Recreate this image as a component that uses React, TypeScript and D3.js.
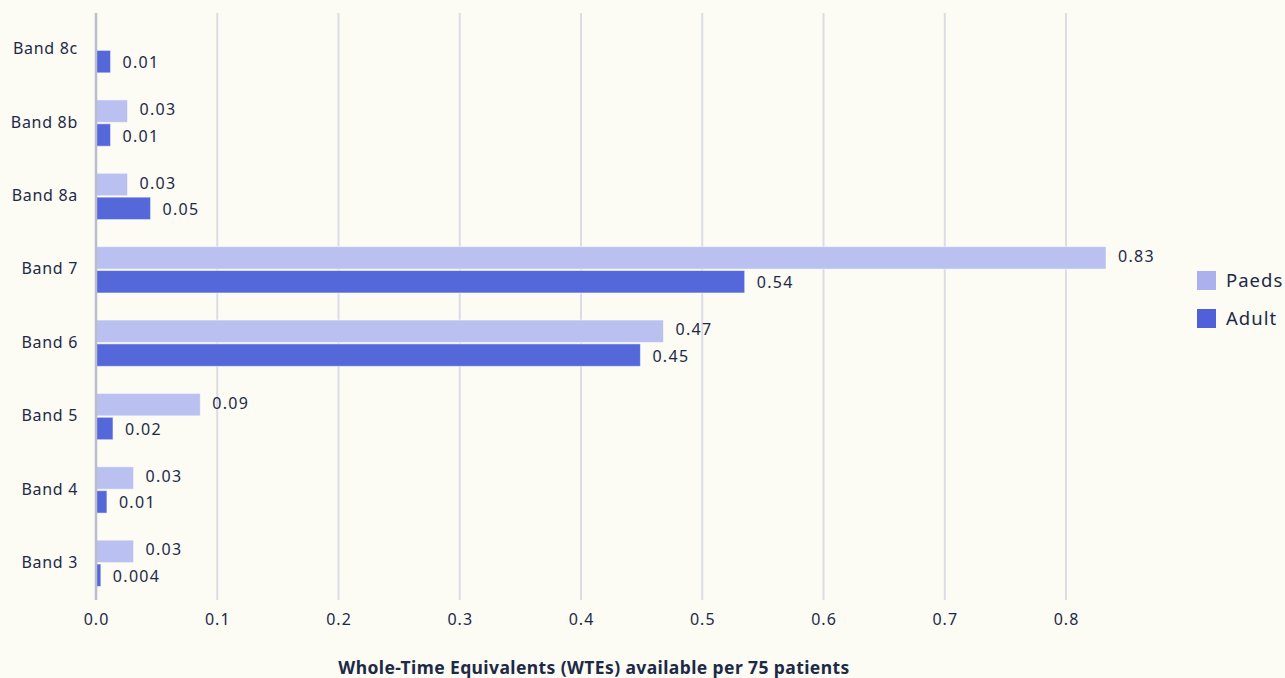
import { useRef, useEffect } from "react";
import * as d3 from "d3";

const bands = ["Band 8c", "Band 8b", "Band 8a", "Band 7", "Band 6", "Band 5", "Band 4", "Band 3"];
const seriesNames = ["Paeds", "Adult"];
const paedsValues = [null, 0.026, 0.026, 0.833, 0.468, 0.086, 0.031, 0.031];
const adultValues = [0.012, 0.012, 0.045, 0.535, 0.449, 0.014, 0.009, 0.004];
const paedsLabels = ["", "0.03", "0.03", "0.83", "0.47", "0.09", "0.03", "0.03"];
const adultLabels = ["0.01", "0.01", "0.05", "0.54", "0.45", "0.02", "0.01", "0.004"];
const xTicks = [0, 0.1, 0.2, 0.3, 0.4, 0.5, 0.6, 0.7, 0.8];

const W = 1285;
const H = 678;
const TEXT = "#1c2a48";
const FONT = "'Noto Sans', 'Open Sans', sans-serif";
const colors: Record<string, string> = { Paeds: "#bac0f0", Adult: "#5468da" };
const legendColors: Record<string, string> = { Paeds: "#aab1ec", Adult: "#5060d8" };
// small vertical nudge of value labels per series
const labelShift: Record<string, number> = { Paeds: -1.5, Adult: 1 };

export default function App() {
  const svgRef = useRef<SVGSVGElement>(null);

  useEffect(() => {
    const svg = d3.select(svgRef.current);
    svg.selectAll("*").remove();

    const left = 96;
    const top = 13;
    const bottom = 600;

    const x = d3.scaleLinear().domain([0, 0.88]).range([left, left + 0.88 * 1212.5]);
    const y = d3
      .scaleBand<string>()
      .domain(bands)
      .range([top, bottom])
      .paddingInner(0.33)
      .paddingOuter(0.165);
    const sub = d3.scaleBand<string>().domain(seriesNames).range([0, y.bandwidth()]).padding(0.06);

    svg.append("rect").attr("width", W).attr("height", H).attr("fill", "#fcfbf4");

    // gridlines
    svg
      .append("g")
      .selectAll("line")
      .data(xTicks.slice(1))
      .join("line")
      .attr("x1", (d) => x(d))
      .attr("x2", (d) => x(d))
      .attr("y1", top)
      .attr("y2", bottom)
      .attr("stroke", "#dcdde4")
      .attr("stroke-width", 2);

    // tick labels
    svg
      .append("g")
      .selectAll("text")
      .data(xTicks)
      .join("text")
      .attr("x", (d) => x(d) + 0.5)
      .attr("y", 619)
      .attr("dy", "0.35em")
      .attr("text-anchor", "middle")
      .attr("font-family", FONT)
      .attr("font-size", 16)
      .attr("letter-spacing", 1)
      .attr("fill", TEXT)
      .text((d) => d3.format(".1f")(d));

    // category labels
    svg
      .append("g")
      .selectAll("text")
      .data(bands)
      .join("text")
      .attr("x", 78)
      .attr("y", (d) => (y(d) ?? 0) + y.bandwidth() / 2 - 1)
      .attr("dy", "0.35em")
      .attr("text-anchor", "end")
      .attr("font-family", FONT)
      .attr("font-size", 16)
      .attr("letter-spacing", 0.7)
      .attr("fill", TEXT)
      .text((d) => d);

    const series = [
      { name: "Paeds", values: paedsValues, labels: paedsLabels },
      { name: "Adult", values: adultValues, labels: adultLabels },
    ];

    series.forEach((s) => {
      const rows = bands
        .map((b, i) => ({ band: b, v: s.values[i], label: s.labels[i] }))
        .filter((r) => r.v != null) as { band: string; v: number; label: string }[];
      const g = svg.append("g");
      g.selectAll("rect")
        .data(rows)
        .join("rect")
        .attr("x", x(0))
        .attr("y", (d) => (y(d.band) ?? 0) + (sub(s.name) ?? 0))
        .attr("width", (d) => x(d.v) - x(0))
        .attr("height", sub.bandwidth())
        .attr("fill", colors[s.name])
        .attr("stroke", "#ffffff")
        .attr("stroke-opacity", 0.5)
        .attr("stroke-width", 1);
      g.selectAll("text")
        .data(rows)
        .join("text")
        .attr("x", (d) => x(d.v) + 12)
        .attr(
          "y",
          (d) => (y(d.band) ?? 0) + (sub(s.name) ?? 0) + sub.bandwidth() / 2 + labelShift[s.name]
        )
        .attr("dy", "0.35em")
        .attr("font-family", FONT)
        .attr("font-size", 16)
        .attr("letter-spacing", 1.3)
        .attr("fill", TEXT)
        .text((d) => d.label);
    });

    // y axis line
    svg
      .append("line")
      .attr("x1", x(0))
      .attr("x2", x(0))
      .attr("y1", top)
      .attr("y2", bottom)
      .attr("stroke", "#b9bdcc")
      .attr("stroke-width", 2.5);

    // legend
    const legend = svg.append("g").attr("transform", "translate(1197, 271)");
    seriesNames.forEach((n, i) => {
      const row = legend.append("g").attr("transform", `translate(0, ${i * 38})`);
      row.append("rect").attr("width", 19).attr("height", 19).attr("fill", legendColors[n]);
      row
        .append("text")
        .attr("x", 29)
        .attr("y", 10)
        .attr("dy", "0.35em")
        .attr("font-family", FONT)
        .attr("font-size", 18.5)
        .attr("letter-spacing", 1)
        .attr("fill", TEXT)
        .text(n);
    });

    // axis title
    svg
      .append("text")
      .attr("x", 594)
      .attr("y", 668)
      .attr("dy", "0.35em")
      .attr("text-anchor", "middle")
      .attr("font-family", FONT)
      .attr("font-size", 17.5)
      .attr("font-weight", "bold")
      .attr("letter-spacing", 0.4)
      .attr("fill", TEXT)
      .text("Whole-Time Equivalents (WTEs) available per 75 patients");
  }, []);

  return (
    <svg
      ref={svgRef}
      width={W}
      height={H}
      style={{ position: "absolute", left: 0, top: 0, display: "block" }}
    />
  );
}
